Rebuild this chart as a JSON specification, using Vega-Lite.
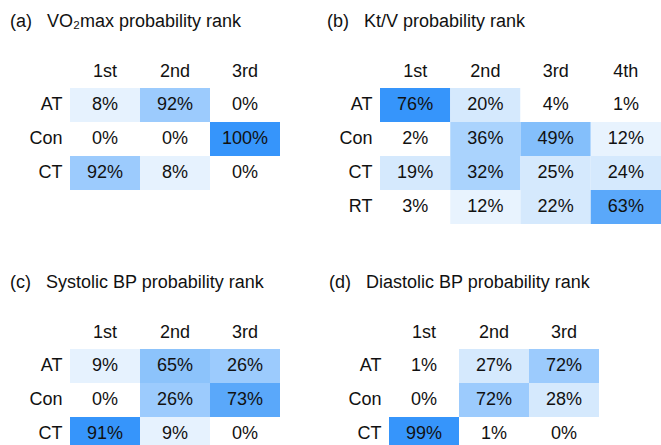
{
  "$schema": "https://vega.github.io/schema/vega-lite/v6.json",
  "padding": {"left": 10, "top": 13, "right": 0, "bottom": 0},
  "background": "white",
  "datasets": {
    "a": [
      {"group": "AT", "rank": "1st", "p": 0.08}, {"group": "AT", "rank": "2nd", "p": 0.92}, {"group": "AT", "rank": "3rd", "p": 0.0},
      {"group": "Con", "rank": "1st", "p": 0.0}, {"group": "Con", "rank": "2nd", "p": 0.0}, {"group": "Con", "rank": "3rd", "p": 1.0},
      {"group": "CT", "rank": "1st", "p": 0.92}, {"group": "CT", "rank": "2nd", "p": 0.08}, {"group": "CT", "rank": "3rd", "p": 0.0}
    ],
    "b": [
      {"group": "AT", "rank": "1st", "p": 0.76}, {"group": "AT", "rank": "2nd", "p": 0.20}, {"group": "AT", "rank": "3rd", "p": 0.04}, {"group": "AT", "rank": "4th", "p": 0.01},
      {"group": "Con", "rank": "1st", "p": 0.02}, {"group": "Con", "rank": "2nd", "p": 0.36}, {"group": "Con", "rank": "3rd", "p": 0.49}, {"group": "Con", "rank": "4th", "p": 0.12},
      {"group": "CT", "rank": "1st", "p": 0.19}, {"group": "CT", "rank": "2nd", "p": 0.32}, {"group": "CT", "rank": "3rd", "p": 0.25}, {"group": "CT", "rank": "4th", "p": 0.24},
      {"group": "RT", "rank": "1st", "p": 0.03}, {"group": "RT", "rank": "2nd", "p": 0.12}, {"group": "RT", "rank": "3rd", "p": 0.22}, {"group": "RT", "rank": "4th", "p": 0.63}
    ],
    "c": [
      {"group": "AT", "rank": "1st", "p": 0.09}, {"group": "AT", "rank": "2nd", "p": 0.65}, {"group": "AT", "rank": "3rd", "p": 0.26},
      {"group": "Con", "rank": "1st", "p": 0.0}, {"group": "Con", "rank": "2nd", "p": 0.26}, {"group": "Con", "rank": "3rd", "p": 0.73},
      {"group": "CT", "rank": "1st", "p": 0.91}, {"group": "CT", "rank": "2nd", "p": 0.09}, {"group": "CT", "rank": "3rd", "p": 0.0}
    ],
    "d": [
      {"group": "AT", "rank": "1st", "p": 0.01}, {"group": "AT", "rank": "2nd", "p": 0.27}, {"group": "AT", "rank": "3rd", "p": 0.72},
      {"group": "Con", "rank": "1st", "p": 0.0}, {"group": "Con", "rank": "2nd", "p": 0.72}, {"group": "Con", "rank": "3rd", "p": 0.28},
      {"group": "CT", "rank": "1st", "p": 0.99}, {"group": "CT", "rank": "2nd", "p": 0.01}, {"group": "CT", "rank": "3rd", "p": 0.0}
    ]
  },
  "resolve": {"scale": {"color": "independent"}},
  "vconcat": [
    {
      "resolve": {"scale": {"color": "independent"}},
      "hconcat": [
        {
          "title": {"text": "(a)\u00a0\u00a0\u00a0VO\u2082max probability rank", "anchor": "start", "frame": "group", "dx": -60},
          "width": 210, "height": 102,
          "data": {"name": "a"},
          "encoding": {
            "x": {"field": "rank", "type": "ordinal", "sort": null, "axis": {"orient": "top"}, "scale": {"paddingInner": 0, "paddingOuter": 0}},
            "y": {"field": "group", "type": "ordinal", "sort": null, "scale": {"paddingInner": 0, "paddingOuter": 0}}
          },
          "layer": [
            {"mark": {"type": "rect"}, "encoding": {"color": {"field": "p", "type": "quantitative", "legend": null,
              "scale": {"type": "threshold", "domain": [0.05, 0.5, 0.96], "range": ["#ffffff", "#e6f2fe", "#9ccbfd", "#3695fb"]}}}},
            {"mark": {"type": "text", "fontSize": 18, "font": "Liberation Sans", "color": "#111111"}, "encoding": {"text": {"field": "p", "type": "quantitative", "format": ".0%"}}}
          ]
        },
        {
          "title": {"text": "(b)\u00a0\u00a0\u00a0Kt/V probability rank", "anchor": "start", "frame": "group", "dx": -53},
          "width": 281, "height": 136,
          "data": {"name": "b"},
          "encoding": {
            "x": {"field": "rank", "type": "ordinal", "sort": null, "axis": {"orient": "top"}, "scale": {"paddingInner": 0, "paddingOuter": 0}},
            "y": {"field": "group", "type": "ordinal", "sort": null, "scale": {"paddingInner": 0, "paddingOuter": 0}}
          },
          "layer": [
            {"mark": {"type": "rect"}, "encoding": {"color": {"field": "p", "type": "quantitative", "legend": null,
              "scale": {"type": "threshold", "domain": [0.05, 0.15, 0.3, 0.4, 0.55, 0.7], "range": ["#ffffff", "#e8f3fe", "#d5e9fd", "#aad3fd", "#84bffb", "#5aa8fa", "#3695fb"]}}}},
            {"mark": {"type": "text", "fontSize": 18, "font": "Liberation Sans", "color": "#111111"}, "encoding": {"text": {"field": "p", "type": "quantitative", "format": ".0%"}}}
          ]
        }
      ],
      "spacing": 47
    },
    {
      "resolve": {"scale": {"color": "independent"}},
      "hconcat": [
        {
          "title": {"text": "(c)\u00a0\u00a0\u00a0Systolic BP probability rank", "anchor": "start", "frame": "group", "dx": -60},
          "width": 210, "height": 102,
          "data": {"name": "c"},
          "encoding": {
            "x": {"field": "rank", "type": "ordinal", "sort": null, "axis": {"orient": "top"}, "scale": {"paddingInner": 0, "paddingOuter": 0}},
            "y": {"field": "group", "type": "ordinal", "sort": null, "scale": {"paddingInner": 0, "paddingOuter": 0}}
          },
          "layer": [
            {"mark": {"type": "rect"}, "encoding": {"color": {"field": "p", "type": "quantitative", "legend": null,
              "scale": {"type": "threshold", "domain": [0.05, 0.2, 0.5, 0.7, 0.85], "range": ["#ffffff", "#e6f2fe", "#9ccbfd", "#8cc3fb", "#5aa8fa", "#3695fb"]}}}},
            {"mark": {"type": "text", "fontSize": 18, "font": "Liberation Sans", "color": "#111111"}, "encoding": {"text": {"field": "p", "type": "quantitative", "format": ".0%"}}}
          ]
        },
        {
          "title": {"text": "(d)\u00a0\u00a0\u00a0Diastolic BP probability rank", "anchor": "start", "frame": "group", "dx": -60},
          "width": 210, "height": 102,
          "data": {"name": "d"},
          "encoding": {
            "x": {"field": "rank", "type": "ordinal", "sort": null, "axis": {"orient": "top"}, "scale": {"paddingInner": 0, "paddingOuter": 0}},
            "y": {"field": "group", "type": "ordinal", "sort": null, "scale": {"paddingInner": 0, "paddingOuter": 0}}
          },
          "layer": [
            {"mark": {"type": "rect"}, "encoding": {"color": {"field": "p", "type": "quantitative", "legend": null,
              "scale": {"type": "threshold", "domain": [0.05, 0.5, 0.9], "range": ["#ffffff", "#d5e9fd", "#9ccbfd", "#3695fb"]}}}},
            {"mark": {"type": "text", "fontSize": 18, "font": "Liberation Sans", "color": "#111111"}, "encoding": {"text": {"field": "p", "type": "quantitative", "format": ".0%"}}}
          ]
        }
      ],
      "spacing": 49
    }
  ],
  "spacing": 50,
  "config": {
    "view": {"stroke": null},
    "font": "Liberation Sans",
    "title": {"fontSize": 18, "fontWeight": "normal", "color": "#111111", "font": "Liberation Sans", "offset": 31},
    "axis": {"domain": false, "ticks": false, "grid": false, "title": null, "labelFontSize": 18, "labelFont": "Liberation Sans", "labelColor": "#111111", "labelPadding": 8, "labelAngle": 0}
  }
}
